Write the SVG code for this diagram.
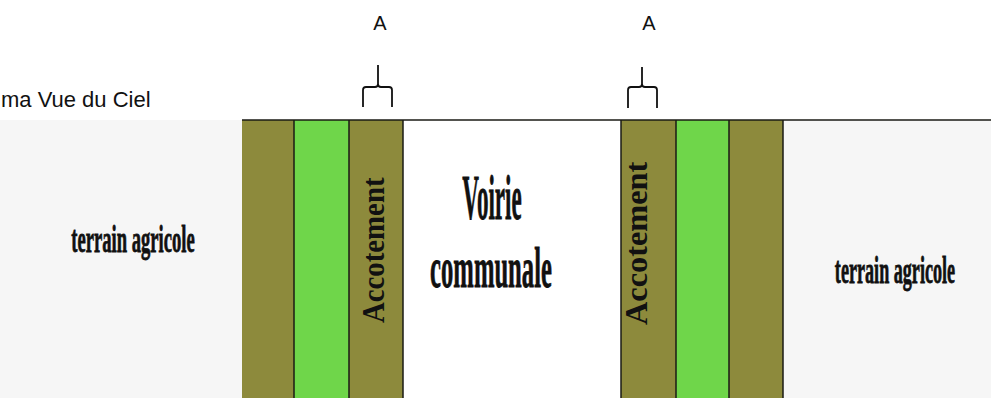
<svg xmlns="http://www.w3.org/2000/svg" width="991" height="398" viewBox="0 0 991 398">
<style>
.olive{fill:#8d8a3c}
.green{fill:#6fd64a}
.div{stroke:#1a1a14;stroke-width:1.5}
.lbl{font-family:"Liberation Sans",Arial,sans-serif;fill:#111}
.ser{font-family:"Liberation Serif","Times New Roman",serif;fill:#111;font-weight:bold}
.heavy{stroke:#111;stroke-width:0.8}
.brk{fill:none;stroke:#111;stroke-width:1.8;stroke-linejoin:round}
</style>
<rect x="0" y="0" width="991" height="398" fill="#ffffff"/>
<g id="terrain-left">
<rect x="0" y="120" width="242" height="278" fill="#f6f6f6"/>
<text class="ser heavy" font-size="38" text-anchor="middle" transform="translate(133,252) scale(0.49,1)">terrain agricole</text>
</g>
<g id="terrain-right">
<rect x="783" y="120" width="208" height="278" fill="#f6f6f6"/>
<text class="ser heavy" font-size="37" text-anchor="middle" transform="translate(895,283) scale(0.49,1)">terrain agricole</text>
</g>
<g id="bande-gauche">
<rect class="olive" x="242" y="120" width="52" height="278"/>
<rect class="green" x="294" y="120" width="55" height="278"/>
</g>
<g id="accotement-gauche">
<rect class="olive" x="349" y="120" width="54" height="278"/>
<text class="ser" font-size="32" transform="translate(384,323) rotate(-90) scale(0.9,1)">Accotement</text>
</g>
<g id="voirie">
<rect x="403" y="120" width="218" height="278" fill="#ffffff"/>
<text class="ser heavy" font-size="64" text-anchor="middle" transform="translate(492,219) scale(0.36,1)">Voirie</text>
<text class="ser heavy" font-size="58" text-anchor="middle" transform="translate(491,287) scale(0.425,1)">communale</text>
</g>
<g id="accotement-droit">
<rect class="olive" x="621" y="120" width="55" height="278"/>
<text class="ser" font-size="32" transform="translate(647,325) rotate(-90) scale(1.01,1)">Accotement</text>
</g>
<g id="bande-droite">
<rect class="green" x="676" y="120" width="53" height="278"/>
<rect class="olive" x="729" y="120" width="54" height="278"/>
</g>
<g id="traits">
<line class="div" x1="242" y1="120" x2="991" y2="120"/>
<line class="div" x1="294" y1="120" x2="294" y2="398"/>
<line class="div" x1="349" y1="120" x2="349" y2="398"/>
<line class="div" x1="403" y1="120" x2="403" y2="398"/>
<line class="div" x1="621" y1="120" x2="621" y2="398"/>
<line class="div" x1="676" y1="120" x2="676" y2="398"/>
<line class="div" x1="729" y1="120" x2="729" y2="398"/>
<line class="div" x1="783" y1="120" x2="783" y2="398"/>
</g>
<g id="titre">
<text class="lbl" x="1" y="107" font-size="22">ma Vue du Ciel</text>
</g>
<g id="coupe-A-gauche">
<text class="lbl" x="380" y="30" font-size="20" text-anchor="middle">A</text>
<path class="brk" d="M378,65 V84 Q378,87 375,87 H366 Q363,87 363,90 V107 M378,84 Q378,87 381,87 H389 Q392,87 392,90 V107"/>
</g>
<g id="coupe-A-droite">
<text class="lbl" x="649" y="30" font-size="20" text-anchor="middle">A</text>
<path class="brk" d="M642,67 V84 Q642,87 639,87 H631 Q628,87 628,90 V108 M642,84 Q642,87 645,87 H654 Q657,87 657,90 V108"/>
</g>
</svg>
